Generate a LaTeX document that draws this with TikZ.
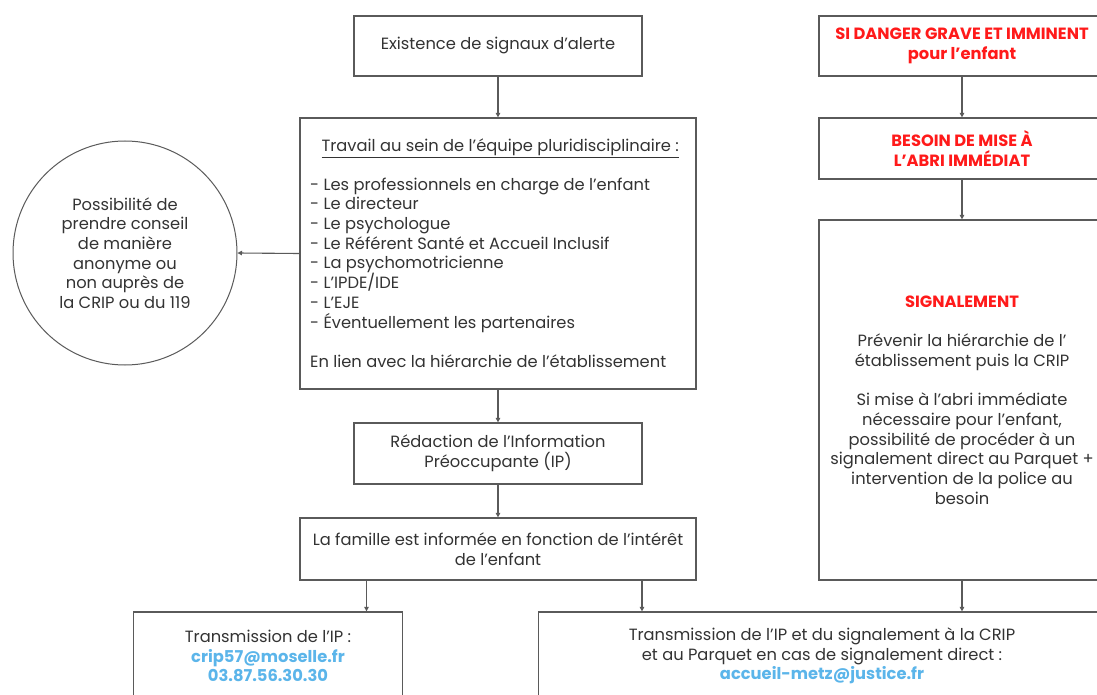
\documentclass[tikz,border=0pt]{standalone}
\usepackage{fontspec}
\setmainfont{Poppins}
\usetikzlibrary{arrows.meta}
\definecolor{txt}{HTML}{333333}
\definecolor{ln}{HTML}{5A5A5A}
\definecolor{alertred}{HTML}{FF1A1A}
\definecolor{mailblue}{HTML}{5BB5EA}
\newcommand{\fs}{\fontsize{16.3}{19.7}\selectfont}
\tikzset{
  box/.style={draw=ln, line width=1.3pt, rectangle, inner sep=0pt, align=center, text=txt, font=\fs},
  circ/.style={draw=ln, line width=1pt, circle, inner sep=0pt, align=center, text=txt, font=\fs},
  arr/.style={draw=ln, line width=1.1pt, -{Triangle[length=4.5pt,width=4.5pt]}}
}
\newcommand{\rd}[1]{{\bfseries\color{alertred}#1}}
\newcommand{\bl}[1]{{\bfseries\color{mailblue}#1}}
\begin{document}
\begin{tikzpicture}[x=1pt,y=-1pt]
\useasboundingbox[fill=white] (0,0) rectangle (1097,695);

\node[box, minimum width=288pt, minimum height=60pt] (b1) at (498,46) {Existence de signaux d’alerte};

\node[box, minimum width=396pt, minimum height=271pt] (b2) at (498,253.5) {};
\node[text=txt, inner sep=0pt, anchor=north west, font=\fs] (b2t) at (310,139)
 {\begin{minipage}{380pt}\fs
 \centering\underline{Travail au sein de l’équipe pluridisciplinaire :}\par
 \vspace{18.5pt}\raggedright
 - Les professionnels en charge de l’enfant\\
 - Le directeur\\
 - Le psychologue\\
 - Le Référent Santé et Accueil Inclusif\\
 - La psychomotricienne\\
 - L’IPDE/IDE\\
 - L’EJE\\
 - Éventuellement les partenaires\par
 \vspace{19.7pt}
 En lien avec la hiérarchie de l’établissement
 \end{minipage}};

\node[circ, minimum size=224pt] (c) at (125,253) {Possibilité de\\prendre conseil\\de manière\\anonyme ou\\non auprès de\\la CRIP ou du 119};

\node[box, minimum width=288pt, minimum height=61pt] (b3) at (498,453.5) {Rédaction de l’Information\\Préoccupante (IP)};

\node[box, minimum width=396pt, minimum height=62pt] (b4) at (498,549) {La famille est informée en fonction de l’intérêt\\de l’enfant};

\node[box, minimum width=269pt, minimum height=88pt] (b5) at (268,656) {Transmission de l’IP :\\\bl{crip57@moselle.fr}\\\bl{03.87.56.30.30}};

\node[box, minimum width=567pt, minimum height=88pt] (b6) at (822,656) {Transmission de l’IP et du signalement à la CRIP\\et au Parquet en cas de signalement direct :\\\bl{accueil-metz@justice.fr}};

\node[box, minimum width=286pt, minimum height=60pt] (r1) at (962,46) {\rd{SI DANGER GRAVE ET IMMINENT}\\\rd{pour l’enfant}};

\node[box, minimum width=286pt, minimum height=61pt] (r2) at (962,148.5) {\rd{BESOIN DE MISE À}\\\rd{L’ABRI IMMÉDIAT}};

\node[box, minimum width=286pt, minimum height=360pt] (r3) at (962,400) {\rd{SIGNALEMENT}\\[19.7pt]Prévenir la hiérarchie de l’\\établissement puis la CRIP\\[19.7pt]Si mise à l’abri immédiate\\nécessaire pour l’enfant,\\possibilité de procéder à un\\signalement direct au Parquet +\\intervention de la police au\\besoin};

\draw[arr] (b1.south) -- (b2.north);
\draw[arr] (b2.west) -- (c.east);
\draw[arr] (b2.south) -- (b3.north);
\draw[arr] (b3.south) -- (b4.north);
\draw[arr] ([xshift=-131.5pt]b4.south) -- ([xshift=-131.5pt]b4.south |- b5.north);
\draw[arr] ([xshift=144pt]b4.south) -- ([xshift=144pt]b4.south |- b6.north);
\draw[arr] (r1.south) -- (r2.north);
\draw[arr] (r2.south) -- (r3.north);
\draw[arr] (r3.south) -- (b6.north -| r3.south);
\end{tikzpicture}
\end{document}
